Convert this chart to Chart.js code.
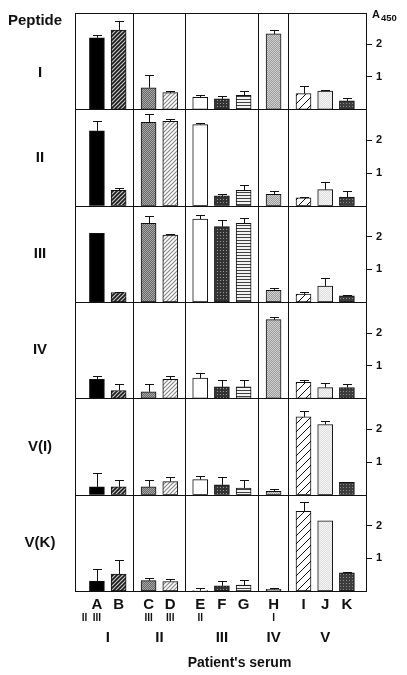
<!DOCTYPE html>
<html>
<head>
<meta charset="utf-8">
<script src="https://cdn.jsdelivr.net/npm/chart.js@4.4.1/dist/chart.umd.min.js"></script>
<style>
  html, body { margin: 0; padding: 0; background: #fff; }
  canvas { display: block; }
</style>
</head>
<body>
<canvas id="elisa" width="407" height="675"></canvas>
<script>
// patients' sera, grouped by patient group I..V
const serumLabels = ['A', 'B', 'C', 'D', 'E', 'F', 'G', 'H', 'I', 'J', 'K'];
const serumGroups = [0, 0, 1, 1, 2, 2, 2, 3, 4, 4, 4];
const groupLabels = ['I', 'II', 'III', 'IV', 'V'];
const subLabels = ['II  III', '', 'III', 'III', 'II', '', '', 'I', '', '', ''];
const peptideLabels = ['I', 'II', 'III', 'IV', 'V(I)', 'V(K)'];
const yTicks = [1, 2];

// A450 means and error (upper whisker length), one pair per peptide
const meansI = [2.19, 2.43, 0.66, 0.51, 0.37, 0.32, 0.43, 2.31, 0.48, 0.56, 0.26];
const errI   = [0.10, 0.26, 0.39, 0.04, 0.06, 0.10, 0.12, 0.12, 0.23, 0.02, 0.10];
const meansII = [2.29, 0.47, 2.55, 2.58, 2.48, 0.30, 0.47, 0.35, 0.24, 0.49, 0.26];
const errII   = [0.29, 0.06, 0.27, 0.07, 0.04, 0.07, 0.15, 0.10, 0.02, 0.22, 0.18];
const meansIII = [2.10, 0.29, 2.41, 2.05, 2.54, 2.31, 2.41, 0.36, 0.24, 0.49, 0.19];
const errIII   = [null, 0.03, 0.22, 0.02, 0.12, 0.19, 0.17, 0.07, 0.06, 0.23, 0.01];
const meansIV = [0.58, 0.24, 0.20, 0.58, 0.62, 0.35, 0.35, 2.41, 0.49, 0.33, 0.33];
const errIV   = [0.10, 0.20, 0.23, 0.09, 0.16, 0.20, 0.22, 0.08, 0.08, 0.14, 0.10];
const meansVI = [0.24, 0.24, 0.24, 0.40, 0.46, 0.30, 0.20, 0.10, 2.38, 2.15, 0.38];
const errVI   = [0.41, 0.20, 0.21, 0.14, 0.12, 0.24, 0.24, 0.08, 0.19, 0.10, 0.01];
const meansVK = [0.30, 0.52, 0.32, 0.29, 0.01, 0.16, 0.18, 0.05, 2.44, 2.15, 0.56];
const errVK   = [0.38, 0.44, 0.07, 0.07, 0.08, 0.15, 0.17, 0.04, 0.28, null, 0.03];

const rowMeans = [meansI, meansII, meansIII, meansIV, meansVI, meansVK];
const rowErrors = [errI, errII, errIII, errIV, errVI, errVK];

const family = '"Liberation Sans", Arial, Helvetica, sans-serif';
const font = (size) => `bold ${size}px ${family}`;
const ink = '#111';

// bars sit one unit apart, with extra room between patient groups
const groupGap = 0.38;
const xPos = serumLabels.map((_, i) => i + groupGap * serumGroups[i]);
const separators = [];
for (let i = 1; i < xPos.length; i++) {
  if (serumGroups[i] !== serumGroups[i - 1]) separators.push((xPos[i] + xPos[i - 1]) / 2);
}

// --- fill patterns ---
function tile(size, paint) {
  const c = document.createElement('canvas');
  c.width = c.height = size;
  const g = c.getContext('2d');
  paint(g, size);
  return g.createPattern(c, 'repeat');
}
function checker(dark, light) {
  return tile(2, (g) => {
    g.fillStyle = dark; g.fillRect(0, 0, 2, 2);
    g.fillStyle = light; g.fillRect(0, 0, 1, 1); g.fillRect(1, 1, 1, 1);
  });
}
function speckle(dark, light) {
  return tile(3, (g) => {
    g.fillStyle = dark; g.fillRect(0, 0, 3, 3);
    g.fillStyle = light; g.fillRect(1, 1, 1, 1);
  });
}
function diagonal(size, bg, fg, lw) {
  return tile(size, (g, s) => {
    g.fillStyle = bg; g.fillRect(0, 0, s, s);
    g.strokeStyle = fg; g.lineWidth = lw;
    g.beginPath();
    g.moveTo(0, s); g.lineTo(s, 0);
    g.moveTo(-1, 1); g.lineTo(1, -1);
    g.moveTo(s - 1, s + 1); g.lineTo(s + 1, s - 1);
    g.stroke();
  });
}
function stripes() {
  return tile(3, (g) => {
    g.fillStyle = '#f2f2f2'; g.fillRect(0, 0, 3, 3);
    g.fillStyle = '#404040'; g.fillRect(0, 0, 3, 1);
  });
}

const serumFills = [
  '#000000',
  diagonal(4, '#c4c4c4', '#1a1a1a', 1.6),
  checker('#676767', '#a8a8a8'),
  diagonal(4, '#ffffff', '#8a8a8a', 1.2),
  '#ffffff',
  speckle('#333333', '#9a9a9a'),
  stripes(),
  checker('#9c9c9c', '#d0d0d0'),
  diagonal(8, '#ffffff', '#111111', 1),
  checker('#dddddd', '#f6f6f6'),
  speckle('#3c3c3c', '#8c8c8c')
];

// --- plugins: panel frames, error bars, labels ---
const panels = {
  id: 'panels',
  afterDatasetsDraw(chart) {
    const { ctx, chartArea } = chart;
    ctx.save();
    ctx.strokeStyle = ink;
    ctx.lineWidth = 1;
    chart.data.datasets.forEach((ds, r) => {
      const meta = chart.getDatasetMeta(r);
      const ys = chart.scales[ds.yAxisID];
      meta.data.forEach((bar, i) => {
        const e = ds.errors[i];
        if (e == null) return;
        const top = Math.round(ys.getPixelForValue(ds.data[i].y + e)) + 0.5;
        const x = Math.round(bar.x) + 0.5;
        ctx.beginPath();
        ctx.moveTo(x, bar.y);
        ctx.lineTo(x, top);
        ctx.moveTo(x - 4.5, top);
        ctx.lineTo(x + 4.5, top);
        ctx.stroke();
      });
      const l = Math.round(chartArea.left) + 0.5;
      const t = Math.round(ys.top) + 0.5;
      ctx.strokeRect(l, t, Math.round(chartArea.right) - l + 0.5, Math.round(ys.bottom) - t + 0.5);
    });
    ctx.restore();
  },
  afterDraw(chart) {
    const { ctx, chartArea, scales } = chart;
    const xs = scales.x;
    ctx.save();
    ctx.fillStyle = ink;
    ctx.textBaseline = 'middle';
    ctx.textAlign = 'center';

    ctx.font = font(15);
    ctx.fillText('Peptide', 35, chartArea.top + 8);
    peptideLabels.forEach((p, r) => {
      const s = scales['y' + r];
      const yc = (s.top + s.bottom) / 2 + (r === 0 ? 12 : 0);
      ctx.fillText(p, 40, yc);
    });

    // A450 axis label
    ctx.textAlign = 'left';
    ctx.font = font(11);
    ctx.fillText('A', 372, chartArea.top + 1.5);
    ctx.font = font(9.5);
    ctx.fillText('450', 381, chartArea.top + 5.5);
    ctx.textAlign = 'center';

    const base = chartArea.bottom;
    serumLabels.forEach((lab, i) => {
      const px = xs.getPixelForValue(xPos[i]);
      ctx.font = font(15);
      ctx.fillText(lab, px, base + 14);
      if (subLabels[i]) {
        ctx.font = font(10);
        const words = subLabels[i].split(' ');
        const last = words[words.length - 1];
        ctx.textAlign = 'right';
        ctx.fillText(subLabels[i], px + ctx.measureText(last).width / 2, base + 27);
        ctx.textAlign = 'center';
      }
    });

    ctx.font = font(15);
    groupLabels.forEach((g, k) => {
      const members = xPos.filter((_, i) => serumGroups[i] === k);
      const px = xs.getPixelForValue((members[0] + members[members.length - 1]) / 2);
      ctx.fillText(g, px, base + 47);
    });

    ctx.font = font(14);
    ctx.fillText("Patient's serum", (chartArea.left + chartArea.right) / 2 + 19, base + 72);
    ctx.restore();
  }
};

const scales = {
  x: {
    type: 'linear',
    position: 'bottom',
    min: -1.01,
    max: 12.4,
    offset: false,
    afterBuildTicks: (s) => { s.ticks = separators.map((v) => ({ value: v })); },
    afterFit: (s) => { s.height = 0; },
    ticks: { display: false },
    grid: { color: ink, lineWidth: 1, drawTicks: false, offset: false },
    border: { display: false }
  }
};
peptideLabels.forEach((p, r) => {
  scales['y' + r] = {
    type: 'linear',
    position: 'right',
    stack: 'rows',
    stackWeight: 1,
    min: 0,
    max: 2.95,
    afterBuildTicks: (s) => { s.ticks = yTicks.map((v) => ({ value: v })); },
    afterFit: (s) => { s.width = 41; },
    ticks: { font: { family, size: 11, weight: 'bold' }, color: ink, padding: 4 },
    grid: { drawOnChartArea: false, drawTicks: true, tickLength: 6, color: ink },
    border: { display: true, color: ink }
  };
});

const datasets = rowMeans.map((means, r) => ({
  label: peptideLabels[r],
  data: xPos.map((x, i) => ({ x, y: means[i] })),
  errors: rowErrors[r],
  yAxisID: 'y' + r,
  backgroundColor: serumFills,
  borderColor: ink,
  borderWidth: 1,
  borderSkipped: false,
  barThickness: 15,
  grouped: false
}));

new Chart(document.getElementById('elisa'), {
  type: 'bar',
  data: { datasets },
  options: {
    responsive: false,
    animation: false,
    events: [],
    layout: { padding: { left: 75, top: 13, right: 0, bottom: 84 } },
    scales,
    plugins: { legend: { display: false }, tooltip: { enabled: false } }
  },
  plugins: [panels]
});
</script>
</body>
</html>
